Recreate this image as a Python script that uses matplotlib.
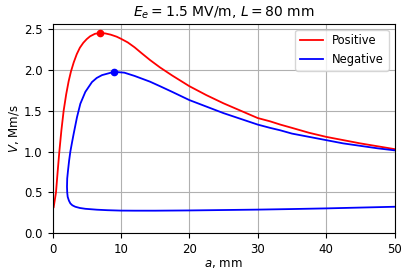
import matplotlib
matplotlib.use("Agg")
import matplotlib.pyplot as plt

# Positive (red) curve
pos_a = [0.17, 0.51, 0.75, 1.0, 1.3, 1.63, 2.0, 2.36, 2.7, 3.1, 3.54, 4.0, 4.5, 5.0,
         5.5, 6.2, 6.9, 7.7, 8.5, 9.38, 10.0, 11.0, 12.0, 13.0, 14.25, 15.7, 17.5, 20,
         22.5, 25, 27.5, 30, 31.8, 33.3, 35, 37.5, 40, 42.5, 45, 47.5, 50]
pos_v = [0.32, 0.5, 0.75, 1.0, 1.26, 1.5, 1.70, 1.86, 1.98, 2.09, 2.19, 2.27, 2.33, 2.375,
         2.41, 2.44, 2.45, 2.445, 2.43, 2.405, 2.38, 2.335, 2.275, 2.205, 2.12, 2.03, 1.93,
         1.80, 1.69, 1.59, 1.50, 1.41, 1.37, 1.33, 1.29, 1.23, 1.18, 1.14, 1.10, 1.065, 1.03]

# Negative (blue) curve, traced from the lower-right end
neg_a = [50, 45, 40, 35, 30, 25, 20, 15, 12, 10, 8, 6.5, 4.8, 4.0, 3.33, 2.9, 2.61, 2.4,
         2.22, 2.15, 2.12, 2.15, 2.27, 2.43, 2.61, 2.85, 3.1, 3.58, 4.07, 4.8, 5.77, 6.46,
         7.24, 8.99, 10.5, 12.0, 14.25, 15.7, 17.5, 20, 22.5, 25, 27.5, 30, 31.8, 33.3, 35,
         37.5, 40, 42.5, 45, 47.5, 50]
neg_v = [0.325, 0.315, 0.305, 0.297, 0.29, 0.285, 0.28, 0.277, 0.277, 0.278, 0.283, 0.289,
         0.30, 0.31, 0.325, 0.343, 0.366, 0.40, 0.446, 0.5, 0.57, 0.67, 0.77, 0.89, 1.0,
         1.11, 1.22, 1.42, 1.585, 1.73, 1.85, 1.90, 1.935, 1.975, 1.965, 1.925, 1.855, 1.80,
         1.73, 1.63, 1.55, 1.47, 1.40, 1.33, 1.29, 1.26, 1.22, 1.18, 1.14, 1.10, 1.07, 1.04,
         1.015]

pos_peak = (6.9, 2.45)
neg_peak = (8.99, 1.975)

plt.rcParams["font.family"] = "DejaVu Sans"
fig = plt.figure(figsize=(4.07, 2.71), dpi=100)
ax = fig.add_axes([0.129, 0.139, 0.8403, 0.7724])

ax.plot(pos_a, pos_v, color="red", lw=1.3, label="Positive")
ax.plot(neg_a, neg_v, color="blue", lw=1.3, label="Negative")
ax.plot([pos_peak[0]], [pos_peak[1]], "o", color="red", markersize=4.5)
ax.plot([neg_peak[0]], [neg_peak[1]], "o", color="blue", markersize=4.5)

ax.set_xlim(0, 50)
ax.set_ylim(0, 2.56)
ax.grid(True)
ax.tick_params(labelsize=8.5)
ax.set_xlabel(r"$a$, mm", fontsize=8.5, labelpad=1)
ax.set_ylabel(r"$V$, Mm/s", fontsize=8.5, labelpad=2)
ax.set_title(r"$E_e=1.5$ MV/m, $L=80$ mm", fontsize=10, pad=5)
ax.legend(loc="upper right", fontsize=8.3)

fig.savefig("out.png", dpi=100)
